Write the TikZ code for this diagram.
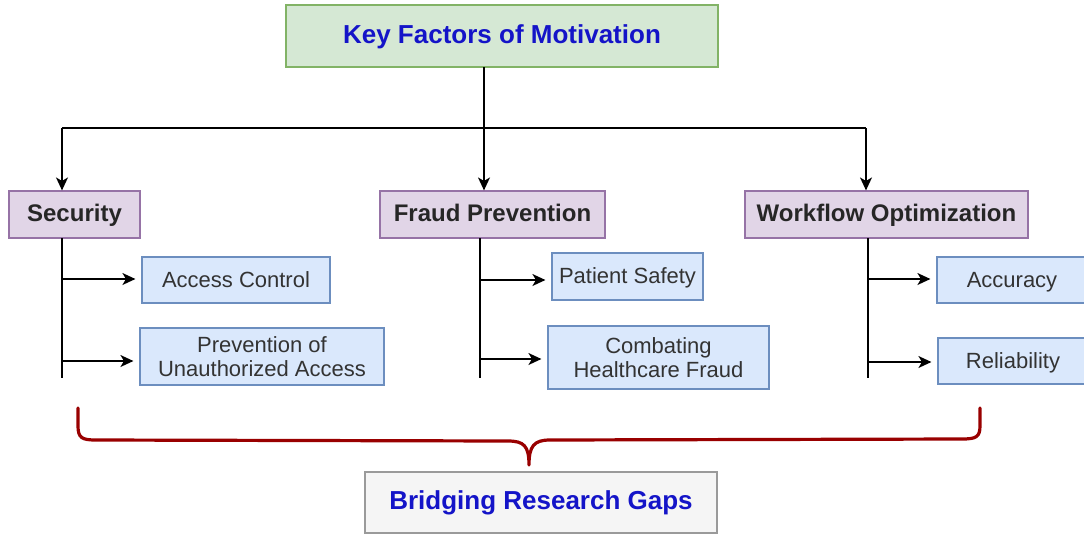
\documentclass[tikz,border=0pt]{standalone}
\usepackage{fontspec}
\setmainfont{Liberation Sans}
\usetikzlibrary{arrows.meta,calc}
\definecolor{gfill}{HTML}{D5E8D4}\definecolor{gdraw}{HTML}{82B366}
\definecolor{pfill}{HTML}{E1D5E7}\definecolor{pdraw}{HTML}{9673A6}
\definecolor{bfill}{HTML}{DAE8FC}\definecolor{bdraw}{HTML}{6C8EBF}
\definecolor{kfill}{HTML}{F5F5F5}\definecolor{kdraw}{HTML}{9A9A9A}
\definecolor{titleblue}{HTML}{1414C8}
\definecolor{txt}{HTML}{262626}
\definecolor{leaftxt}{HTML}{333333}
\definecolor{bracered}{HTML}{990000}
\tikzset{
  box/.style={draw, line width=0.6pt, inner sep=0pt, align=center, text=txt, text height=0.72em, text depth=0.02em},
  topbox/.style={box, fill=gfill, draw=gdraw, text=titleblue, font=\fontsize{13}{15}\selectfont\bfseries},
  headbox/.style={box, fill=pfill, draw=pdraw, font=\fontsize{12}{14}\selectfont\bfseries},
  leafbox/.style={box, fill=bfill, draw=bdraw, text=leaftxt, font=\fontsize{11}{12}\selectfont},
  gapbox/.style={box, fill=kfill, draw=kdraw, text=titleblue, font=\fontsize{13}{15}\selectfont\bfseries},
  conn/.style={line width=0.75pt, black},
  arr/.style={conn, -{Stealth[length=6.5pt, width=6pt, inset=1.8pt]}},
  sarr/.style={arr, shorten >=3pt},
  bracestyle/.style={line width=1.6pt, bracered, line cap=round, line join=round}
}
\begin{document}
\begin{tikzpicture}[x=0.5pt, y=-0.5pt]
\useasboundingbox (0,0) rectangle (1084,537);
\clip (0,0) rectangle (1084,537);
\fill[white] (0,0) rectangle (1084,537);

% nodes
\node[topbox, minimum width=216pt, minimum height=31pt] (title) at (502,36) {Key Factors of Motivation};
\node[headbox, minimum width=65.5pt, minimum height=23.5pt] (sec) at (74.5,214.5) {Security};
\node[headbox, minimum width=112.5pt, minimum height=23.5pt] (fraud) at (492.5,214.5) {Fraud Prevention};
\node[headbox, minimum width=141.5pt, minimum height=23.5pt] (work) at (886.5,214.5) {Workflow Optimization};

\node[leafbox, minimum width=94pt, minimum height=23pt] (acc) at (236,280) {Access Control};
\node[leafbox, minimum width=122pt, minimum height=28.5pt, text height=, text depth=] (prev) at (262,356.5) {Prevention of\\Unauthorized Access};
\node[leafbox, minimum width=75.5pt, minimum height=23.5pt] (pat) at (627.5,276.5) {Patient Safety};
\node[leafbox, minimum width=110.5pt, minimum height=31.5pt, text height=, text depth=] (comb) at (658.5,357.5) {Combating\\Healthcare Fraud};
\node[leafbox, minimum width=75pt, minimum height=23pt] (accu) at (1012,280) {Accuracy};
\node[leafbox, minimum width=75pt, minimum height=23pt] (rel) at (1013,361) {Reliability};

\node[gapbox, minimum width=176pt, minimum height=30.5pt] (gap) at (541,502.5) {Bridging Research Gaps};

% top connectors
\coordinate (t0) at (484,67);
\coordinate (bus) at (484,128);
\coordinate (b1) at (62,128);
\coordinate (b2) at (484,128);
\coordinate (b3) at (866,128);
\draw[conn] (t0) -- (bus);
\draw[conn] (b1) -- (b3);
\draw[arr] (b1) -- (b1 |- sec.north);
\draw[arr] (b2) -- (b2 |- fraud.north);
\draw[arr] (b3) -- (b3 |- work.north);

% security branch
\coordinate (s0) at (62,238);
\coordinate (s9) at (62,378);
\coordinate (s1) at (62,279);
\coordinate (s2) at (62,361);
\draw[conn] (s0) -- (s9);
\draw[sarr] (s1) -- (acc.west |- s1);
\draw[sarr] (s2) -- (prev.west |- s2);

% fraud branch
\coordinate (f0) at (480,238);
\coordinate (f9) at (480,378);
\coordinate (f1) at (480,280);
\coordinate (f2) at (480,359);
\draw[conn] (f0) -- (f9);
\draw[sarr] (f1) -- (pat.west |- f1);
\draw[sarr] (f2) -- (comb.west |- f2);

% workflow branch
\coordinate (w0) at (868,238);
\coordinate (w9) at (868,378);
\coordinate (w1) at (868,279);
\coordinate (w2) at (868,362);
\draw[conn] (w0) -- (w9);
\draw[sarr] (w1) -- (accu.west |- w1);
\draw[sarr] (w2) -- (rel.west |- w2);

% brace
\coordinate (bl) at (78,408);
\coordinate (br) at (980,408);
\coordinate (btip) at (529,465);
\draw[bracestyle] (bl) -- (78,426) .. controls (78,438) and (82,440) .. (96,440)
  -- (508,441) .. controls (524,441) and (529,446) .. (btip)
  .. controls (529,446) and (534,440) .. (550,440)
  -- (962,439) .. controls (976,439) and (980,437) .. (980,426) -- (br);
\end{tikzpicture}
\end{document}
